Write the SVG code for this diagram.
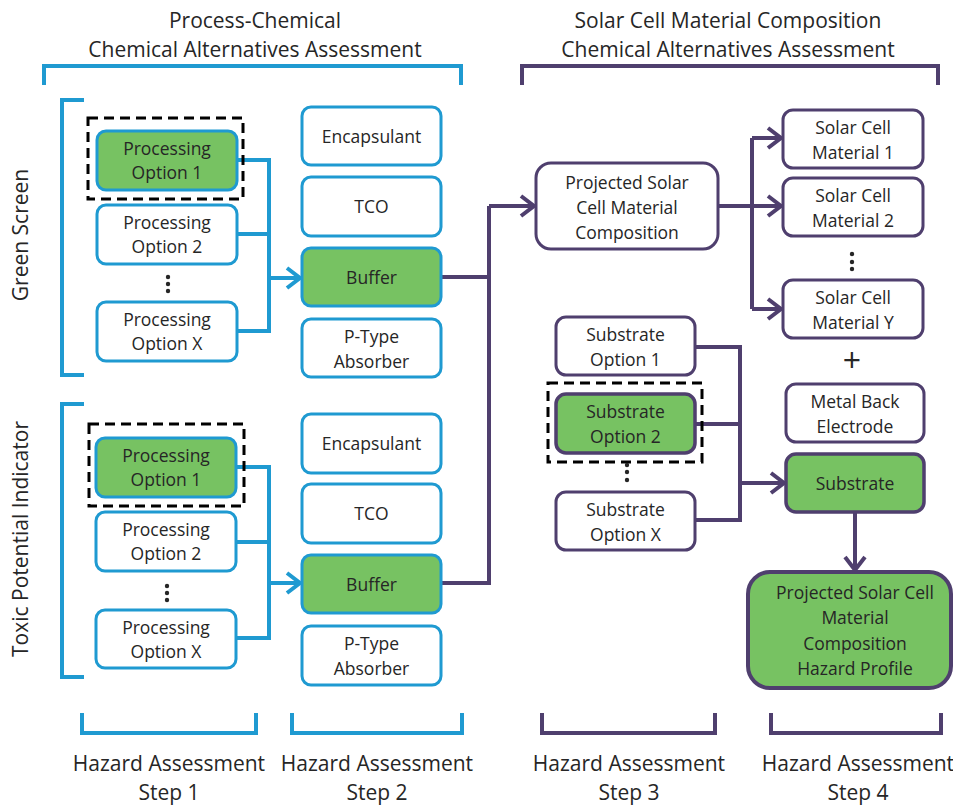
<svg xmlns="http://www.w3.org/2000/svg" width="953" height="806" viewBox="0 0 953 806">
<defs>
<style>
text{font-family:"Open Sans","Liberation Sans",sans-serif;fill:#262626;text-anchor:middle}
.t{font-size:21px}
.b{font-size:17.5px}
.bw{fill:#fff;stroke:#1f9ad1;stroke-width:3}
.bg{fill:#77c262;stroke:#1f9ad1;stroke-width:3}
.pw{fill:#fff;stroke:#4f3f6e;stroke-width:3}
.pg{fill:#77c262;stroke:#4f3f6e;stroke-width:3.5}
.dash{fill:none;stroke:#000;stroke-width:3;stroke-dasharray:10 6}
.bl{fill:none;stroke:#1f9ad1;stroke-width:4}
.pl{fill:none;stroke:#4f3f6e;stroke-width:4}
.dot{fill:#262626}
</style>
<marker id="ab" viewBox="0 0 20 24" refX="17" refY="12" markerWidth="20" markerHeight="24" markerUnits="userSpaceOnUse" orient="auto">
<path d="M4,2 L17,12 L4,22" fill="none" stroke="#1f9ad1" stroke-width="4"/>
</marker>
<marker id="ap" viewBox="0 0 20 24" refX="17" refY="12" markerWidth="20" markerHeight="24" markerUnits="userSpaceOnUse" orient="auto">
<path d="M4,2 L17,12 L4,22" fill="none" stroke="#4f3f6e" stroke-width="4"/>
</marker>
</defs>
<rect width="953" height="806" fill="#fff"/>

<g id="titles">
<text class="t" x="255" y="28">Process-Chemical</text>
<text class="t" x="255" y="57">Chemical Alternatives Assessment</text>
<text class="t" x="728" y="28">Solar Cell Material Composition</text>
<text class="t" x="728" y="57">Chemical Alternatives Assessment</text>
<text class="t" transform="translate(28,235) rotate(-90)">Green Screen</text>
<text class="t" transform="translate(28,539) rotate(-90)">Toxic Potential Indicator</text>
<text class="t" x="169" y="771">Hazard Assessment</text>
<text class="t" x="169" y="800">Step 1</text>
<text class="t" x="377" y="771">Hazard Assessment</text>
<text class="t" x="377" y="800">Step 2</text>
<text class="t" x="629" y="771">Hazard Assessment</text>
<text class="t" x="629" y="800">Step 3</text>
<text class="t" x="858" y="771">Hazard Assessment</text>
<text class="t" x="858" y="800">Step 4</text>
</g>

<g id="brackets">
<path class="bl" d="M44,85 V66 H461 V85"/>
<path class="pl" d="M522,85 V66 H938 V85"/>
<path class="bl" d="M84,100 H62 V375 H84"/>
<path class="bl" d="M84,404 H62 V677 H84"/>
<path class="bl" d="M82,713 V733 H256 V713"/>
<path class="bl" d="M292,713 V733 H462 V713"/>
<path class="pl" d="M542,713 V733 H715 V713"/>
<path class="pl" d="M771,713 V733 H941 V713"/>
</g>

<g id="connectors">
<path class="bl" d="M237,160 H269 V331 H237 M237,234 H269"/>
<path class="bl" d="M269,278 H300" marker-end="url(#ab)"/>
<path class="bl" d="M236,467 H269 V638 H236 M236,542 H269"/>
<path class="bl" d="M269,583 H300" marker-end="url(#ab)"/>
<path class="pl" d="M441,277 H489 M441,583 H489 V206"/>
<path class="pl" d="M489,206 H534" marker-end="url(#ap)"/>
<path class="pl" d="M718,206 H752 M752,138 V309"/>
<path class="pl" d="M752,138 H781" marker-end="url(#ap)"/>
<path class="pl" d="M752,206 H781" marker-end="url(#ap)"/>
<path class="pl" d="M752,309 H781" marker-end="url(#ap)"/>
<path class="pl" d="M695,347 H740 V520 H695 M695,424 H740"/>
<path class="pl" d="M740,483 H784" marker-end="url(#ap)"/>
<path class="pl" d="M855,512 V570" marker-end="url(#ap)"/>
</g>

<g id="gs-opt1"><rect class="bg" x="97" y="131" width="140" height="59" rx="9"/><text class="b" x="167" y="155">Processing</text><text class="b" x="167" y="179">Option 1</text></g>
<rect id="gs-sel" class="dash" x="88" y="118" width="155" height="81"/>
<g id="gs-opt2"><rect class="bw" x="97" y="205" width="140" height="59" rx="9"/><text class="b" x="167" y="229">Processing</text><text class="b" x="167" y="253">Option 2</text></g>
<g id="gs-dots"><circle class="dot" cx="168" cy="277" r="2.2"/><circle class="dot" cx="168" cy="284" r="2.2"/><circle class="dot" cx="168" cy="291" r="2.2"/></g>
<g id="gs-optx"><rect class="bw" x="97" y="302" width="140" height="59" rx="9"/><text class="b" x="167" y="326">Processing</text><text class="b" x="167" y="350">Option X</text></g>
<g id="gs-encap"><rect class="bw" x="302" y="107" width="139" height="58" rx="9"/><text class="b" x="371.5" y="142.5">Encapsulant</text></g>
<g id="gs-tco"><rect class="bw" x="302" y="177" width="139" height="59" rx="9"/><text class="b" x="371.5" y="213">TCO</text></g>
<g id="gs-buffer"><rect class="bg" x="302" y="248" width="139" height="58" rx="9"/><text class="b" x="371.5" y="283.5">Buffer</text></g>
<g id="gs-ptype"><rect class="bw" x="302" y="319" width="139" height="58" rx="9"/><text class="b" x="371.5" y="343">P-Type</text><text class="b" x="371.5" y="367.5">Absorber</text></g>

<g id="tp-opt1"><rect class="bg" x="96" y="438" width="140" height="59" rx="9"/><text class="b" x="166" y="462">Processing</text><text class="b" x="166" y="486">Option 1</text></g>
<rect id="tp-sel" class="dash" x="89" y="424" width="155" height="82"/>
<g id="tp-opt2"><rect class="bw" x="96" y="512" width="140" height="59" rx="9"/><text class="b" x="166" y="536">Processing</text><text class="b" x="166" y="560">Option 2</text></g>
<g id="tp-dots"><circle class="dot" cx="167" cy="586" r="2.2"/><circle class="dot" cx="167" cy="593" r="2.2"/><circle class="dot" cx="167" cy="600" r="2.2"/></g>
<g id="tp-optx"><rect class="bw" x="96" y="610" width="140" height="58" rx="9"/><text class="b" x="166" y="633.5">Processing</text><text class="b" x="166" y="657.5">Option X</text></g>
<g id="tp-encap"><rect class="bw" x="302" y="414" width="139" height="59" rx="9"/><text class="b" x="371.5" y="450">Encapsulant</text></g>
<g id="tp-tco"><rect class="bw" x="302" y="484" width="139" height="59" rx="9"/><text class="b" x="371.5" y="520">TCO</text></g>
<g id="tp-buffer"><rect class="bg" x="302" y="555" width="139" height="58" rx="9"/><text class="b" x="371.5" y="590.5">Buffer</text></g>
<g id="tp-ptype"><rect class="bw" x="302" y="626" width="139" height="59" rx="9"/><text class="b" x="371.5" y="650">P-Type</text><text class="b" x="371.5" y="674.5">Absorber</text></g>

<g id="projected"><rect class="pw" x="536" y="163" width="182" height="86" rx="15"/><text class="b" x="627" y="188.5">Projected Solar</text><text class="b" x="627" y="213.5">Cell Material</text><text class="b" x="627" y="238.5">Composition</text></g>
<g id="scm1"><rect class="pw" x="783" y="110" width="140" height="58" rx="10"/><text class="b" x="853" y="133.5">Solar Cell</text><text class="b" x="853" y="158.5">Material 1</text></g>
<g id="scm2"><rect class="pw" x="783" y="178" width="140" height="58" rx="10"/><text class="b" x="853" y="201.5">Solar Cell</text><text class="b" x="853" y="226.5">Material 2</text></g>
<g id="scm-dots"><circle class="dot" cx="852" cy="254" r="2.2"/><circle class="dot" cx="852" cy="262" r="2.2"/><circle class="dot" cx="852" cy="269" r="2.2"/></g>
<g id="scmy"><rect class="pw" x="783" y="280" width="140" height="58" rx="10"/><text class="b" x="853" y="303.5">Solar Cell</text><text class="b" x="853" y="328.5">Material Y</text></g>
<g id="plus"><text x="852" y="372" style="font-size:32px">+</text></g>
<g id="sub1"><rect class="pw" x="556" y="317" width="139" height="58" rx="10"/><text class="b" x="625.5" y="340.5">Substrate</text><text class="b" x="625.5" y="365.5">Option 1</text></g>
<g id="sub2"><rect class="pg" x="556" y="394" width="139" height="59" rx="10"/><text class="b" x="625.5" y="418">Substrate</text><text class="b" x="625.5" y="443">Option 2</text></g>
<rect id="sub-sel" class="dash" x="548" y="383" width="154" height="79"/>
<g id="sub-dots"><circle class="dot" cx="627" cy="465" r="2.2"/><circle class="dot" cx="627" cy="472" r="2.2"/><circle class="dot" cx="627" cy="480" r="2.2"/></g>
<g id="subx"><rect class="pw" x="556" y="492" width="139" height="58" rx="10"/><text class="b" x="625.5" y="515.5">Substrate</text><text class="b" x="625.5" y="540.5">Option X</text></g>
<g id="metal"><rect class="pw" x="786" y="384" width="138" height="58" rx="10"/><text class="b" x="855" y="407.5">Metal Back</text><text class="b" x="855" y="432.5">Electrode</text></g>
<g id="substrate"><rect class="pg" x="786" y="454" width="138" height="58" rx="10"/><text class="b" x="855" y="489.5">Substrate</text></g>
<g id="hazard"><rect class="pg" x="748" y="572" width="203" height="116" rx="22" style="stroke-width:4"/><text class="b" x="855" y="598.5">Projected Solar Cell</text><text class="b" x="855" y="623.5">Material</text><text class="b" x="855" y="649.5">Composition</text><text class="b" x="855" y="674.5">Hazard Profile</text></g>
</svg>
